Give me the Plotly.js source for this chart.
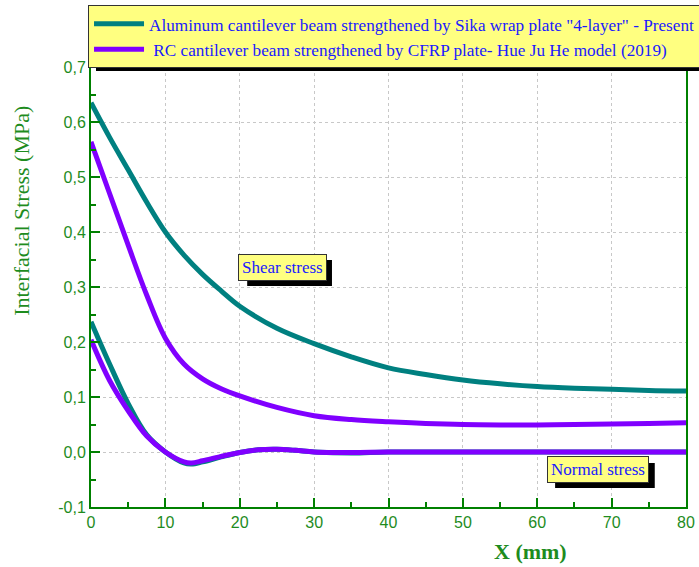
<!DOCTYPE html>
<html><head><meta charset="utf-8">
<script src="https://cdn.plot.ly/plotly-3.0.1.min.js"></script>
<style>body{margin:0;padding:0;background:#fff}#c{width:699px;height:567px}</style>
</head><body><div id="c"></div>
<script>
const xs = [0,2.5,5,7.5,10,12.5,15,17.5,20,25,30,35,40,45,50,55,60,65,70,75,80];
const shearAl = [0.635,0.572,0.513,0.454,0.400,0.358,0.323,0.293,0.265,0.225,0.197,0.173,0.153,0.141,0.131,0.124,0.119,0.116,0.114,0.112,0.111];
const shearRC = [0.564,0.470,0.376,0.285,0.207,0.160,0.133,0.115,0.102,0.081,0.066,0.059,0.055,0.052,0.050,0.049,0.049,0.050,0.051,0.052,0.053];
const xn = [0,2.5,5,7.5,10,12.5,13.5,15,17.5,20,22.5,25,27.5,30,35,40,50,60,70,80];
const normalAl = [0.237,0.160,0.088,0.031,0.000,-0.020,-0.022,-0.018,-0.009,-0.001,0.004,0.005,0.003,0.000,-0.002,0.000,0.000,0.000,0.000,0.000];
const normalRC = [0.204,0.130,0.075,0.029,0.000,-0.018,-0.020,-0.016,-0.008,-0.001,0.004,0.005,0.003,0.000,-0.001,0.000,0.000,0.000,0.000,0.000];
const names = ['Aluminum cantilever beam strengthened by Sika wrap plate "4-layer" - Present',' RC cantilever beam strengthened by CFRP plate- Hue Ju He model (2019)'];
const yTicks = [-0.1,0,0.1,0.2,0.3,0.4,0.5,0.6,0.7];
const xTicks = [0,10,20,30,40,50,60,70,80];

const teal = '#008080', purple = '#8000ff', green = '#008000', labelGreen = '#1e8c1e';
const serif = 'Liberation Serif, Times New Roman, serif';
const traces = [
  {x: xs, y: shearAl, mode:'lines', name: names[0], line:{color:teal,width:5,shape:'spline'}, legendgroup:'a'},
  {x: xn, y: normalAl, mode:'lines', name: names[0], line:{color:teal,width:5,shape:'spline'}, legendgroup:'a', showlegend:false},
  {x: xs, y: shearRC, mode:'lines', name: names[1], line:{color:purple,width:5,shape:'spline'}, legendgroup:'b'},
  {x: xn, y: normalRC, mode:'lines', name: names[1], line:{color:purple,width:5,shape:'spline'}, legendgroup:'b', showlegend:false}
];
const boxFont = {family:serif, size:17, color:'#1a1aff'};
function boxAnn(text, x, y){
  return {text:text, x:x, y:y, xref:'x', yref:'y', showarrow:false, xanchor:'center', yanchor:'middle',
    font: boxFont, bgcolor:'#ffff80', bordercolor:'#333', borderwidth:1, borderpad:3};
}
function shadow(x0, x1, y0, y1){
  return {type:'rect', xref:'x', yref:'y', x0:x0, x1:x1, y0:y0, y1:y1, fillcolor:'#000', line:{width:0}, layer:'above'};
}
const layout = {
  width:699, height:567,
  margin:{l:91, r:13, t:67, b:60, autoexpand:false},
  paper_bgcolor:'#fff', plot_bgcolor:'#fff',
  separators: ',.',
  showlegend:true,
  legend:{x:-0.005, y:1.1405, xanchor:'left', yanchor:'top', bgcolor:'#ffff80', bordercolor:'#333', borderwidth:1,
    font:{family:serif, size:17.2, color:'#1a1aff'}, tracegroupgap:0, itemwidth:50},
  xaxis:{range:[0,80], tickvals:xTicks, ticktext:xTicks.map(String), ticks:'inside', ticklen:9, tickwidth:2, tickcolor:green,
    showline:true, linecolor:green, linewidth:2, mirror:true, showgrid:true, gridcolor:'#c8c8c8', griddash:'dot', gridwidth:1,
    zeroline:false, tickfont:{family:'Liberation Sans, Arial, sans-serif', size:16, color:labelGreen},
    minor:{dtick:5, ticks:'inside', ticklen:5, tickcolor:green, showgrid:false}},
  yaxis:{range:[-0.1,0.7], tickvals:yTicks, ticktext:yTicks.map(v=>v.toFixed(1).replace('.',',')), ticks:'inside', ticklen:9, tickwidth:2, tickcolor:green,
    showline:true, linecolor:green, linewidth:2, mirror:true, showgrid:true, gridcolor:'#c8c8c8', griddash:'dot', gridwidth:1,
    zeroline:false, tickfont:{family:'Liberation Sans, Arial, sans-serif', size:16, color:labelGreen},
    minor:{dtick:0.05, ticks:'inside', ticklen:5, tickcolor:green, showgrid:false}},
  shapes:[
    {type:'rect', xref:'paper', yref:'paper', x0:0.0084, x1:1.04, y0:0.9909, y1:1.116, fillcolor:'#000', line:{width:0}, layer:'above'},
    shadow(21.0, 32.4, 0.302, 0.349),
    shadow(62.4, 75.8, -0.0655, -0.020)
  ],
  annotations:[
    boxAnn('Shear stress', 25.8, 0.336),
    boxAnn('Normal stress', 68.2, -0.031),
    {text:'<b>X (mm)</b>', xref:'paper', yref:'paper', x:0.739, y:-0.1, xanchor:'center', yanchor:'middle', showarrow:false,
      font:{family:serif, size:22, color:labelGreen}},
    {text:'Interfacial Stress (MPa)', xref:'paper', yref:'paper', x:-0.116, y:0.673, xanchor:'center', yanchor:'middle', showarrow:false, textangle:-90,
      font:{family:serif, size:22, color:labelGreen}}
  ]
};
Plotly.newPlot('c', traces, layout, {displayModeBar:false, staticPlot:true});
</script></body></html>
